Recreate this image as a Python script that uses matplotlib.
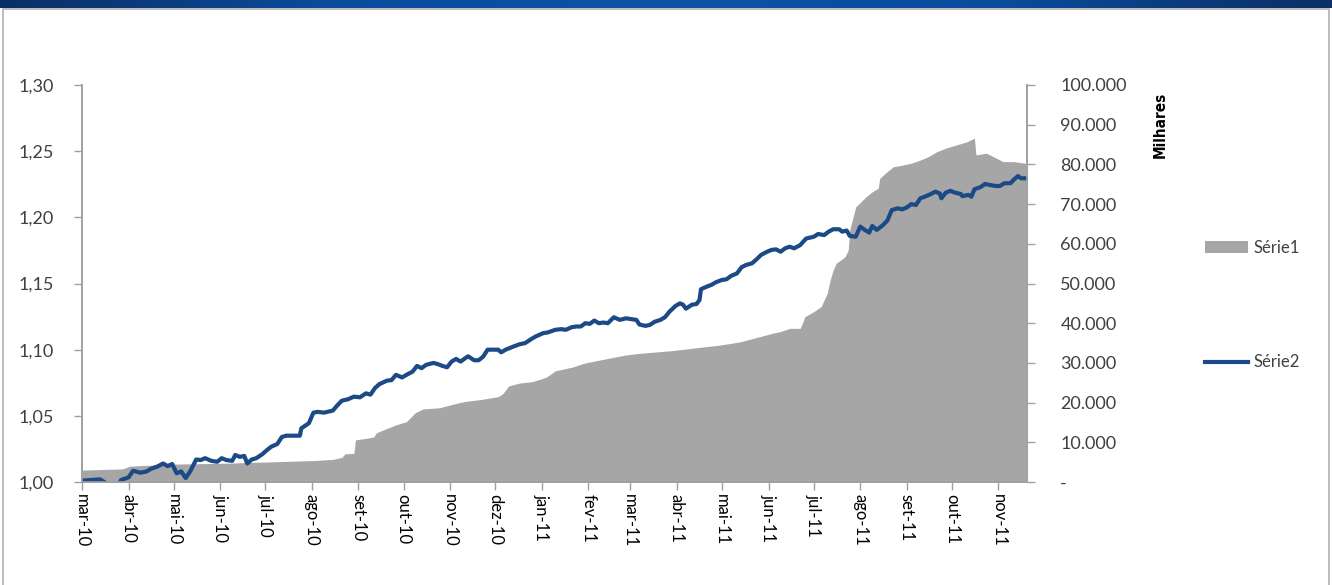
import numpy as np
import pandas as pd
import matplotlib
matplotlib.use("Agg")
import matplotlib.pyplot as plt
import matplotlib.dates as mdates
from matplotlib.patches import Rectangle
from matplotlib.ticker import FuncFormatter, MultipleLocator

# Série2 (eixo esquerdo)
serie2_datas = [
    "2010-03-01", "2010-03-13", "2010-03-20", "2010-03-25", "2010-03-27", "2010-04-01",
    "2010-04-04", "2010-04-09", "2010-04-13", "2010-04-16", "2010-04-20", "2010-04-24",
    "2010-04-27", "2010-04-30", "2010-05-03", "2010-05-06", "2010-05-09", "2010-05-12",
    "2010-05-16", "2010-05-19", "2010-05-22", "2010-05-26", "2010-05-30", "2010-06-02",
    "2010-06-05", "2010-06-09", "2010-06-11", "2010-06-14", "2010-06-17", "2010-06-19",
    "2010-06-22", "2010-06-25", "2010-06-29", "2010-07-02", "2010-07-05", "2010-07-09",
    "2010-07-12", "2010-07-15", "2010-07-21", "2010-07-24", "2010-07-25", "2010-07-30",
    "2010-08-02", "2010-08-05", "2010-08-09", "2010-08-15", "2010-08-18", "2010-08-21",
    "2010-08-25", "2010-08-29", "2010-09-02", "2010-09-06", "2010-09-09", "2010-09-12",
    "2010-09-15", "2010-09-20", "2010-09-23", "2010-09-26", "2010-09-30", "2010-10-03",
    "2010-10-07", "2010-10-10", "2010-10-13", "2010-10-16", "2010-10-21", "2010-10-24",
    "2010-10-27", "2010-10-30", "2010-11-02", "2010-11-05", "2010-11-08", "2010-11-11",
    "2010-11-13", "2010-11-17", "2010-11-20", "2010-11-23", "2010-11-26", "2010-11-29",
    "2010-12-03", "2010-12-05", "2010-12-08", "2010-12-13", "2010-12-17", "2010-12-21",
    "2010-12-25", "2010-12-28", "2011-01-02", "2011-01-05", "2011-01-10", "2011-01-14",
    "2011-01-17", "2011-01-21", "2011-01-24", "2011-01-27", "2011-01-30", "2011-02-02",
    "2011-02-05", "2011-02-08", "2011-02-11", "2011-02-14", "2011-02-18", "2011-02-22",
    "2011-02-26", "2011-03-02", "2011-03-05", "2011-03-07", "2011-03-11", "2011-03-14",
    "2011-03-17", "2011-03-21", "2011-03-24", "2011-03-27", "2011-03-31", "2011-04-03",
    "2011-04-05", "2011-04-07", "2011-04-11", "2011-04-14", "2011-04-16", "2011-04-17",
    "2011-04-21", "2011-04-24", "2011-04-27", "2011-05-01", "2011-05-04", "2011-05-07",
    "2011-05-11", "2011-05-14", "2011-05-17", "2011-05-21", "2011-05-24", "2011-05-27",
    "2011-05-31", "2011-06-03", "2011-06-06", "2011-06-09", "2011-06-12", "2011-06-15",
    "2011-06-18", "2011-06-22", "2011-06-26", "2011-07-01", "2011-07-04", "2011-07-08",
    "2011-07-11", "2011-07-14", "2011-07-18", "2011-07-20", "2011-07-23", "2011-07-25",
    "2011-07-29", "2011-08-01", "2011-08-04", "2011-08-07", "2011-08-09", "2011-08-12",
    "2011-08-16", "2011-08-19", "2011-08-22", "2011-08-26", "2011-08-29", "2011-09-01",
    "2011-09-04", "2011-09-07", "2011-09-10", "2011-09-13", "2011-09-17", "2011-09-20",
    "2011-09-23", "2011-09-24", "2011-09-27", "2011-09-30", "2011-10-03", "2011-10-07",
    "2011-10-08", "2011-10-12", "2011-10-14", "2011-10-16", "2011-10-20", "2011-10-23",
    "2011-10-26", "2011-10-30", "2011-11-02", "2011-11-05", "2011-11-09", "2011-11-11",
    "2011-11-14", "2011-11-16", "2011-11-19",
]
serie2_valores = [
    1.001, 1.002, 0.997, 0.997, 1.0015, 1.0035,
    1.0085, 1.007, 1.008, 1.010, 1.0116, 1.014,
    1.012, 1.0136, 1.0066, 1.008, 1.003, 1.008,
    1.017, 1.0166, 1.018, 1.016, 1.0153, 1.018,
    1.0166, 1.016, 1.0204, 1.019, 1.0197, 1.014,
    1.017, 1.018, 1.021, 1.024, 1.0267, 1.0287,
    1.034, 1.035, 1.035, 1.035, 1.0406, 1.0444,
    1.0524, 1.053, 1.0524, 1.054, 1.058, 1.0615,
    1.0625, 1.0645, 1.064, 1.067, 1.066, 1.071,
    1.074, 1.0766, 1.077, 1.081, 1.079, 1.081,
    1.0834, 1.0877, 1.086, 1.0885, 1.090, 1.089,
    1.0877, 1.0867, 1.091, 1.093, 1.091, 1.0935,
    1.095, 1.092, 1.092, 1.0947, 1.100, 1.100,
    1.100, 1.098, 1.100, 1.1023, 1.104, 1.105,
    1.108, 1.110, 1.1125, 1.113, 1.115, 1.1155,
    1.115, 1.117, 1.1175, 1.1175, 1.120, 1.1195,
    1.122, 1.120, 1.1205, 1.120, 1.1245, 1.1225,
    1.1237, 1.123, 1.1225, 1.119, 1.118, 1.1187,
    1.121, 1.1225, 1.1245, 1.1287, 1.133, 1.135,
    1.134, 1.131, 1.134, 1.1345, 1.1375, 1.1457,
    1.1477, 1.149, 1.151, 1.1527, 1.1532, 1.1557,
    1.1577, 1.1623, 1.164, 1.1653, 1.1683, 1.1716,
    1.1740, 1.1754, 1.1758, 1.174, 1.1766, 1.1778,
    1.1766, 1.179, 1.184, 1.1853, 1.1874, 1.1866,
    1.1892, 1.191, 1.191, 1.1892, 1.190, 1.186,
    1.1853, 1.193, 1.1905, 1.1885, 1.1935, 1.1905,
    1.194, 1.1975, 1.2055, 1.2068, 1.206, 1.2075,
    1.210, 1.2093, 1.2144, 1.2156, 1.2176, 1.2194,
    1.218, 1.2144, 1.2187, 1.2200, 1.2187, 1.2176,
    1.216, 1.217, 1.2156, 1.2212, 1.2228, 1.2252,
    1.2245, 1.2237, 1.2237, 1.2258, 1.2258, 1.2282,
    1.2312, 1.2295, 1.2295,
]

# Série1 (eixo direito, em milhares)
serie1_datas = [
    "2010-03-01", "2010-03-28", "2010-04-02", "2010-04-30", "2010-06-01", "2010-07-07",
    "2010-08-02", "2010-08-15", "2010-08-21", "2010-08-23", "2010-08-29", "2010-08-30",
    "2010-09-06", "2010-09-11", "2010-09-13", "2010-09-20", "2010-09-26", "2010-10-03",
    "2010-10-05", "2010-10-09", "2010-10-14", "2010-10-25", "2010-11-03", "2010-11-11",
    "2010-11-22", "2010-12-03", "2010-12-06", "2010-12-10", "2010-12-17", "2010-12-26",
    "2011-01-04", "2011-01-10", "2011-01-22", "2011-01-29", "2011-02-07", "2011-02-26",
    "2011-03-07", "2011-03-29", "2011-04-16", "2011-04-30", "2011-05-13", "2011-05-26",
    "2011-06-04", "2011-06-09", "2011-06-15", "2011-06-22", "2011-06-24", "2011-06-25",
    "2011-07-01", "2011-07-06", "2011-07-10", "2011-07-12", "2011-07-14", "2011-07-16",
    "2011-07-19", "2011-07-22", "2011-07-24", "2011-07-25", "2011-07-29", "2011-08-05",
    "2011-08-09", "2011-08-13", "2011-08-14", "2011-08-19", "2011-08-23", "2011-08-29",
    "2011-09-04", "2011-09-10", "2011-09-15", "2011-09-21", "2011-09-27", "2011-10-04",
    "2011-10-11", "2011-10-16", "2011-10-17", "2011-10-24", "2011-10-31", "2011-11-04",
    "2011-11-11", "2011-11-19",
]
serie1_valores = [
    3000, 3300, 4000, 4500, 4700, 5100,
    5400, 5700, 6200, 7100, 7200, 10600,
    11000, 11300, 12400, 13500, 14400, 15200,
    16000, 17500, 18400, 18700, 19600, 20300,
    20800, 21500, 22200, 24200, 24900, 25300,
    26400, 28000, 29000, 29900, 30600, 32000,
    32400, 33100, 33900, 34500, 35300, 36600,
    37500, 37900, 38700, 38700, 40400, 41600,
    42900, 44200, 47500, 50900, 53400, 55100,
    55900, 56800, 58400, 63500, 69300, 71900,
    73100, 74000, 76500, 78200, 79400, 79800,
    80300, 81100, 81900, 83200, 84100, 84900,
    85700, 86600, 82400, 82800, 81500, 80700,
    80700, 80300,
]

meses = ["jan", "fev", "mar", "abr", "mai", "jun", "jul", "ago", "set", "out", "nov", "dez"]

cor_area = "#A6A6A6"
cor_linha = "#1C4A87"
cor_eixo = "#A0A0A0"
cor_texto = "#404040"

plt.rcParams["font.family"] = ["Lato", "DejaVu Sans"]

d2 = pd.to_datetime(serie2_datas)
d1 = pd.to_datetime(serie1_datas)

fig = plt.figure(figsize=(13.32, 5.85), dpi=100)

# faixa azul do topo e moldura
moldura = Rectangle((3 / 1332, -0.01), 1326 / 1332, 1 - 9 / 585 + 0.01,
                    transform=fig.transFigure, facecolor="white",
                    edgecolor="#B0B0B0", linewidth=1.2, zorder=-10)
fig.patches.append(moldura)
ax_top = fig.add_axes([0, 1 - 8 / 585, 1, 8 / 585])
grad = np.linspace(0, 1, 400)
grad = np.minimum(grad, 1 - grad) * 2
ax_top.imshow(grad[np.newaxis, :], aspect="auto", cmap=matplotlib.colors.LinearSegmentedColormap.from_list(
    "faixa", ["#0B2F66", "#0A4C9C", "#0B52A6"]), extent=[0, 1, 0, 1])
ax_top.axis("off")

ax1 = fig.add_axes([82 / 1332, 1 - 482 / 585, (1027 - 82) / 1332, (482 - 85) / 585])
ax2 = ax1.twinx()

ax2.fill_between(d1, serie1_valores, 0, color=cor_area, linewidth=0, label="Série1")
ax1.plot(d2, serie2_valores, color=cor_linha, linewidth=3.0, label="Série2", solid_joinstyle="round")

ax1.set_zorder(ax2.get_zorder() + 1)
ax1.patch.set_visible(False)
ax2.patch.set_visible(False)

ax1.set_xlim(pd.Timestamp("2010-03-01"), pd.Timestamp("2011-11-20"))
ax1.set_ylim(1.0, 1.30)
ax2.set_ylim(0, 100000)

ax1.yaxis.set_major_locator(MultipleLocator(0.05))
ax1.yaxis.set_major_formatter(FuncFormatter(lambda v, p: f"{v:.2f}".replace(".", ",")))
ax2.yaxis.set_major_locator(MultipleLocator(10000))
ax2.yaxis.set_major_formatter(FuncFormatter(
    lambda v, p: "-" if v == 0 else f"{int(v):,}".replace(",", ".")))

ax1.xaxis.set_major_locator(mdates.MonthLocator())
ax1.xaxis.set_major_formatter(FuncFormatter(
    lambda v, p: f"{meses[mdates.num2date(v).month - 1]}-{mdates.num2date(v).year % 100:02d}"))

ax1.tick_params(axis="x", labelsize=12, colors=cor_eixo, labelcolor="black",
                direction="out", length=6, width=1, pad=3, labelrotation=-90)
ax1.tick_params(axis="y", labelsize=13, colors=cor_eixo, labelcolor=cor_texto,
                direction="out", length=6, width=1, pad=14)
ax2.tick_params(axis="y", labelsize=13, colors=cor_eixo, labelcolor=cor_texto,
                direction="out", length=6, width=1, pad=18)

for ax in (ax1, ax2):
    ax.spines["top"].set_visible(False)
    for s in ("left", "right", "bottom"):
        ax.spines[s].set_color(cor_eixo)
        ax.spines[s].set_linewidth(1.2)

fig.text(1160 / 1332, 1 - 125 / 585, "Milhares", rotation=90, ha="center", va="center",
         fontsize=11, fontweight="bold", color="black", family=["DejaVu Sans"], fontstretch="condensed")

h2, l2 = ax2.get_legend_handles_labels()
h1, l1 = ax1.get_legend_handles_labels()
fig.legend(h2 + h1, l2 + l1, loc="upper left", bbox_to_anchor=(1190 / 1332, 1 - 225 / 585),
           frameon=False, fontsize=12, labelspacing=5.9, handlelength=2.6, handletextpad=0.3,
           labelcolor=cor_texto)

fig.savefig("out.png", dpi=100)
